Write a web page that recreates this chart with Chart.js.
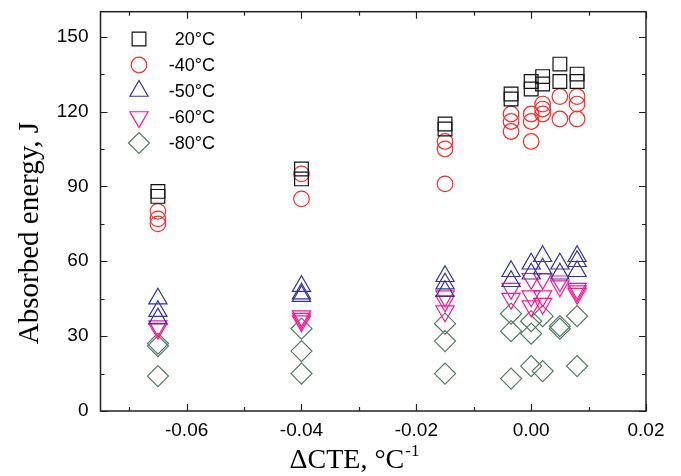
<!DOCTYPE html>
<html>
<head>
<meta charset="utf-8">
<script src="https://cdn.jsdelivr.net/npm/chart.js@4.4.1/dist/chart.umd.min.js"></script>
<style>
html, body { margin: 0; padding: 0; background: #fff; }
</style>
</head>
<body>
<canvas id="myChart" width="681" height="476"></canvas>
<script>
// axis ticks
const xTicks = [-0.06, -0.04, -0.02, 0.00, 0.02];
const xMinor = [-0.07, -0.05, -0.03, -0.01, 0.01];
const yTicks = [0, 30, 60, 90, 120, 150];
const yMinor = [15, 45, 75, 105, 135];

// 20°C
const x20 = [-0.065, -0.065, -0.04, -0.04, -0.015, -0.015, -0.0035, -0.0035, 0, 0, 0.002, 0.002, 0.005, 0.005, 0.008, 0.008];
const y20 = [88, 86, 97, 93, 115, 113, 127, 125, 132, 129, 134, 131, 139, 132, 135, 132];
// -40°C
const x40 = [-0.065, -0.065, -0.065, -0.04, -0.04, -0.015, -0.015, -0.015, -0.0035, -0.0035, -0.0035, 0, 0, 0, 0.002, 0.002, 0.002, 0.005, 0.005, 0.008, 0.008, 0.008];
const y40 = [80, 77, 75, 95, 85, 108, 105, 91, 119, 116, 112, 119, 116, 108, 123, 121, 119, 126, 117, 126, 123, 117];
// -50°C
const x50 = [-0.065, -0.065, -0.065, -0.04, -0.04, -0.04, -0.015, -0.015, -0.015, -0.0035, -0.0035, 0, 0, 0.002, 0.002, 0.005, 0.005, 0.008, 0.008, 0.008];
const y50 = [45, 40, 37, 50, 47, 46, 54, 51, 48, 56, 52, 59, 55, 62, 57, 59, 55, 62, 60, 56];
// -60°C
const x60 = [-0.065, -0.065, -0.04, -0.04, -0.04, -0.015, -0.015, -0.015, -0.0035, -0.0035, 0, 0, 0, 0.002, 0.002, 0.002, 0.005, 0.005, 0.008, 0.008, 0.008];
const y60 = [34, 33, 38, 37, 36, 46, 44, 40, 49, 45, 53, 46, 42, 53, 46, 43, 52, 50, 49, 48, 47];
// -80°C
const x80 = [-0.065, -0.065, -0.065, -0.04, -0.04, -0.04, -0.015, -0.015, -0.015, -0.0035, -0.0035, -0.0035, 0, 0, 0, 0.002, 0.002, 0.005, 0.005, 0.008, 0.008];
const y80 = [27, 26, 14, 33, 24, 15, 35, 28, 15, 39, 32, 13, 36, 31, 18, 38, 16, 34, 33, 38, 18];

const serif = '"Liberation Serif", "Times New Roman", serif';
const sans = '"Liberation Sans", Arial, sans-serif';

function pts(xs, ys) {
    return xs.map((v, i) => ({x: v, y: ys[i]}));
}

function series(label, xs, ys, color, style, radius, rotation) {
    return {
        label: label,
        data: pts(xs, ys),
        pointStyle: style,
        pointRadius: radius,
        pointHoverRadius: radius,
        pointRotation: rotation,
        rotation: rotation,
        pointBorderWidth: 1.2,
        borderColor: color,
        pointBorderColor: color,
        pointBackgroundColor: 'rgba(0,0,0,0)',
        backgroundColor: 'rgba(0,0,0,0)',
        showLine: false
    };
}

const datasets = [
    series('20°C', x20, y20, '#111111', 'rect', 9.7, 0),
    series('-40°C', x40, y40, '#ff2b2b', 'circle', 7.8, 0),
    series('-50°C', x50, y50, '#35359c', 'triangle', 10.5, 0),
    series('-60°C', x60, y60, '#ff1493', 'triangle', 10.5, 180),
    series('-80°C', x80, y80, '#4f7d62', 'rectRot', 10.5, 0)
];

// box with inward ticks on all four sides
const frameTicks = {
    id: 'frameTicks',
    beforeDatasetsDraw(chart) {
        const {ctx, chartArea: a, scales} = chart;
        const sx = scales.x, sy = scales.y;
        ctx.save();
        ctx.strokeStyle = '#222';
        ctx.lineWidth = 1.5;
        ctx.strokeRect(a.left, a.top, a.right - a.left, a.bottom - a.top);
        ctx.lineWidth = 1.2;
        ctx.beginPath();
        const xt = (vals, len) => vals.forEach(v => {
            const px = Math.round(sx.getPixelForValue(v)) + 0.5;
            ctx.moveTo(px, a.bottom); ctx.lineTo(px, a.bottom - len);
            ctx.moveTo(px, a.top); ctx.lineTo(px, a.top + len);
        });
        const yt = (vals, len) => vals.forEach(v => {
            const py = Math.round(sy.getPixelForValue(v)) + 0.5;
            ctx.moveTo(a.left, py); ctx.lineTo(a.left + len, py);
            ctx.moveTo(a.right, py); ctx.lineTo(a.right - len, py);
        });
        xt(xTicks, 7); xt(xMinor, 4);
        yt(yTicks, 7); yt(yMinor, 4);
        ctx.stroke();
        ctx.restore();
    }
};

// legend inside the plot, upper left, and the two axis titles
const innerLegend = {
    id: 'innerLegend',
    afterDraw(chart) {
        const ctx = chart.ctx;
        ctx.save();
        chart.data.datasets.forEach((ds, i) => {
            const cy = 39 + i * 26;
            ctx.strokeStyle = ds.borderColor;
            ctx.fillStyle = 'rgba(0,0,0,0)';
            ctx.lineWidth = 1.2;
            Chart.helpers.drawPoint(ctx, {
                pointStyle: ds.pointStyle,
                rotation: ds.rotation,
                radius: ds.pointRadius,
                borderWidth: 1.2
            }, 139, cy);
            ctx.fillStyle = '#000';
            ctx.font = '18px ' + sans;
            ctx.textAlign = 'right';
            ctx.textBaseline = 'middle';
            ctx.fillText(ds.label, 215, cy + 1);
        });

        ctx.fillStyle = '#000';
        ctx.textBaseline = 'alphabetic';
        // x title with superscript
        ctx.font = '28px ' + serif;
        const main = 'ΔCTE, °C';
        const w1 = ctx.measureText(main).width;
        ctx.font = '17px ' + serif;
        const w2 = ctx.measureText('-1').width;
        const x0 = 354 - (w1 + w2) / 2;
        ctx.font = '28px ' + serif;
        ctx.textAlign = 'left';
        ctx.fillText(main, x0, 468);
        ctx.font = '17px ' + serif;
        ctx.fillText('-1', x0 + w1 + 1, 456);

        // y title
        ctx.save();
        ctx.translate(38, 233);
        ctx.rotate(-Math.PI / 2);
        ctx.font = '29px ' + serif;
        ctx.textAlign = 'center';
        ctx.fillText('Absorbed energy, J', 0, 0);
        ctx.restore();
        ctx.restore();
    }
};

const ctx = document.getElementById('myChart').getContext('2d');
const myChart = new Chart(ctx, {
    type: 'scatter',
    data: {datasets: datasets},
    options: {
        responsive: false,
        animation: false,
        devicePixelRatio: 1,
        layout: {padding: {left: 0, right: 35, top: 11, bottom: 0}},
        plugins: {
            legend: {display: false},
            tooltip: {enabled: false}
        },
        scales: {
            x: {
                type: 'linear',
                min: -0.075,
                max: 0.02,
                afterBuildTicks: s => { s.ticks = xTicks.map(v => ({value: v})); },
                afterFit: s => { s.height = 65; s.paddingLeft = 0; s.paddingRight = 0; },
                grid: {display: false, drawTicks: false},
                border: {display: false},
                ticks: {
                    callback: v => v.toFixed(2),
                    color: '#000',
                    padding: 8,
                    maxRotation: 0,
                    autoSkip: false,
                    font: {family: sans, size: 19}
                }
            },
            y: {
                type: 'linear',
                min: 0,
                max: 160,
                afterBuildTicks: s => { s.ticks = yTicks.map(v => ({value: v})); },
                afterFit: s => { s.width = 100.5; s.paddingTop = 0; s.paddingBottom = 0; },
                grid: {display: false, drawTicks: false},
                border: {display: false},
                ticks: {
                    color: '#000',
                    padding: 12,
                    autoSkip: false,
                    font: {family: sans, size: 19}
                }
            }
        }
    },
    plugins: [frameTicks, innerLegend]
});
</script>
</body>
</html>
